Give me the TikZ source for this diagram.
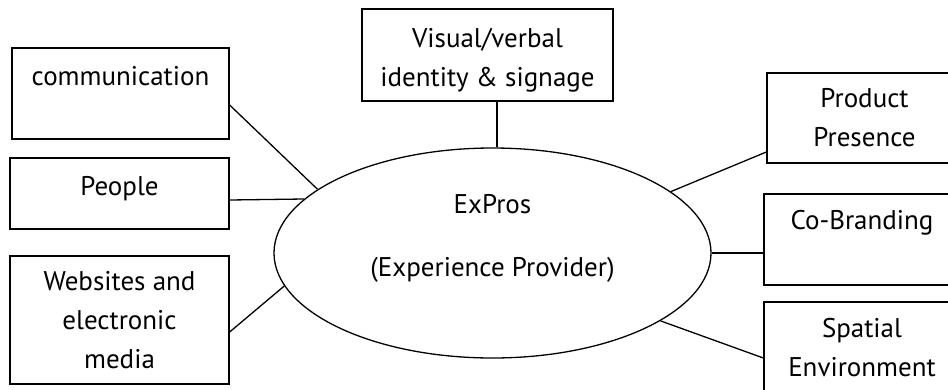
\documentclass[tikz,border=0pt]{standalone}
\usepackage{fontspec}
\setmainfont{PT Sans}
\usetikzlibrary{shapes.geometric}
\tikzset{
  box/.style={draw, rectangle, inner sep=0pt, align=center},
  link/.style={line width=1.3pt}
}

\begin{document}
\begin{tikzpicture}[x=1pt, y=-1pt, line width=1.3pt, font=\fontsize{27}{39}\selectfont]
            \path[use as bounding box, clip] (0,0) rectangle (948,389);
            \node[ellipse, draw, inner sep=0pt, align=center, minimum width=437, minimum height=210,
                  text height=82, text depth=36] (expros) at (492.5,253) {ExPros\\[24pt](Experience Provider)};
            \node[box, minimum width=217, minimum height=91, text height=19, text depth=36] (comm) at (120.5,93.5) {communication};
            \node[box, minimum width=219, minimum height=71, text height=19, text depth=16] (people) at (119.5,193.5) {People};
            \node[box, minimum width=219, minimum height=128] (web) at (119.5,320) {Websites and\\electronic\\media};
            \node[box, minimum width=251, minimum height=92, text height=62, text depth=0] (visual) at (487.5,55) {Visual/verbal\\identity \& signage};
            \node[box, minimum width=195, minimum height=90] (product) at (864.5,118) {Product\\Presence};
            \node[box, minimum width=196, minimum height=91, text height=19, text depth=40] (cobrand) at (862,239.5) {Co-Branding};
            \node[box, minimum width=196, minimum height=92] (spatial) at (862,348) {Spatial\\Environment};
            \draw[link] ([xshift=9.5pt]visual.south) -- ([xshift=9.5pt]visual.south |- expros.north);
            \draw[link] ([yshift=-11.5pt]comm.east) -- (expros.160);
            \draw[link] ([yshift=-6.5pt]people.east) -- (expros.164);
            \draw[link] ([yshift=-12pt]web.east) -- (expros.189);
            \draw[link] ([yshift=-34pt]product.west) -- (expros.19.5);
            \draw[link] (expros.east) -- (expros.east -| cobrand.west);
            \draw[link] ([yshift=-10pt]spatial.west) -- (expros.-22.4);
        \end{tikzpicture}
\end{document}
